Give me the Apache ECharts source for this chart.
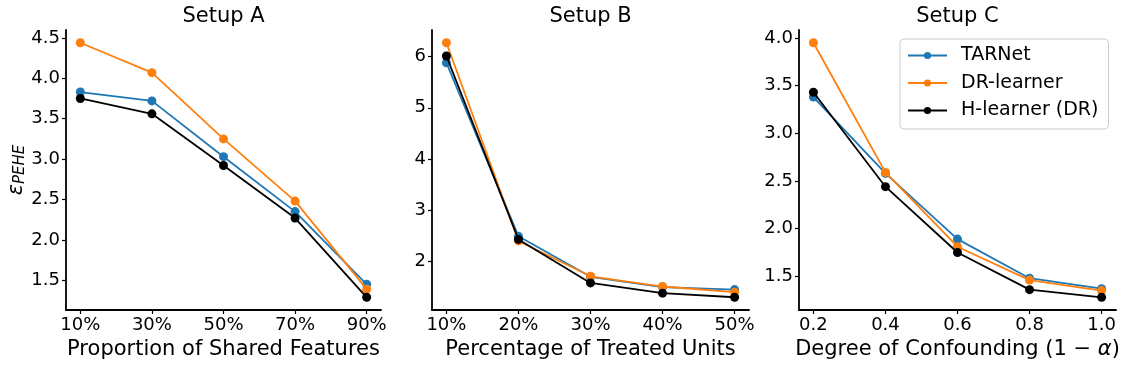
<!DOCTYPE html>
<html>
<head>
<meta charset="utf-8">
<script src="https://cdn.jsdelivr.net/npm/echarts@6/dist/echarts.min.js"></script>
<style>
  html, body { margin: 0; padding: 0; background: #fff; }
  #chart { width: 1121px; height: 368px; }
</style>
</head>
<body>
<div id="chart"></div>
<script>
// x tick labels for each setup
const setupAX = ['10%', '30%', '50%', '70%', '90%'];
const setupBX = ['10%', '20%', '30%', '40%', '50%'];
const setupCX = ['0.2', '0.4', '0.6', '0.8', '1.0'];

// Setup A
const tarnetA = [3.83, 3.72, 3.03, 2.35, 1.45];
const drA = [4.44, 4.07, 3.25, 2.48, 1.39];
const hA = [3.75, 3.56, 2.92, 2.27, 1.29];
// Setup B
const tarnetB = [5.88, 2.49, 1.70, 1.50, 1.45];
const drB = [6.27, 2.40, 1.71, 1.51, 1.40];
const hB = [6.01, 2.43, 1.58, 1.38, 1.30];
// Setup C
const tarnetC = [3.38, 2.58, 1.89, 1.48, 1.37];
const drC = [3.95, 2.59, 1.81, 1.46, 1.35];
const hC = [3.43, 2.44, 1.75, 1.36, 1.28];

// y tick labels
const yTicksA = [1.5, 2.0, 2.5, 3.0, 3.5, 4.0, 4.5];
const yTicksB = [2, 3, 4, 5, 6];
const yTicksC = [1.5, 2.0, 2.5, 3.0, 3.5, 4.0];

const names = ['TARNet', 'DR-learner', 'H-learner (DR)'];
const colors = ['#1f77b4', '#ff7f0e', '#000000'];
const FONT = 'DejaVu Sans';

const panels = [
  { title: 'Setup A', xlabels: setupAX, xname: 'Proportion of Shared Features', yticks: yTicksA, digits: 1, data: [tarnetA, drA, hA], left: 66, width: 315 },
  { title: 'Setup B', xlabels: setupBX, xname: 'Percentage of Treated Units', yticks: yTicksB, digits: 0, data: [tarnetB, drB, hB], left: 432, width: 317 },
  { title: 'Setup C', xlabels: setupCX, xname: 'Degree of Confounding (1 \u2212 {a|\u03b1})', yticks: yTicksC, digits: 1, data: [tarnetC, drC, hC], left: 799, width: 317 }
];

const chart = echarts.init(document.getElementById('chart'));

let grids = [], xAxes = [], yAxes = [], series = [], titles = [];

panels.forEach((p, gi) => {
  grids.push({ left: p.left, width: p.width, top: 30, height: 280, containLabel: false, outerBoundsMode: 'none' });
  titles.push({
    text: p.title,
    left: p.left + p.width / 2,
    textAlign: 'center',
    top: 6,
    padding: 0,
    textStyle: { fontFamily: FONT, fontSize: 21, fontWeight: 'normal', color: '#000' }
  });
  let all = [].concat(...p.data);
  let lo = Math.min(...all), hi = Math.max(...all);
  let pad = (hi - lo) * 0.05;
  let n = p.xlabels.length - 1;
  xAxes.push({
    type: 'value',
    gridIndex: gi,
    min: -0.05 * n,
    max: n + 0.05 * n,
    name: p.xname,
    nameLocation: 'middle',
    nameGap: 27,
    nameTextStyle: {
      fontFamily: FONT, fontSize: 21, color: '#000',
      rich: { a: { fontFamily: FONT, fontSize: 21, fontStyle: 'italic', color: '#000' } }
    },
    axisLine: { onZero: false, lineStyle: { color: '#000', width: 1.8 } },
    axisTick: { show: true, length: 4, lineStyle: { color: '#000', width: 1.2 }, customValues: p.xlabels.map((_, i) => i) },
    axisLabel: {
      fontFamily: FONT, fontSize: 18, color: '#000', margin: 6,
      customValues: p.xlabels.map((_, i) => i),
      formatter: v => p.xlabels[Math.round(v)]
    },
    splitLine: { show: false }
  });
  yAxes.push({
    type: 'value',
    gridIndex: gi,
    min: lo - pad,
    max: hi + pad,
    name: gi === 0 ? '{e|\u03b5}{s|PEHE}' : '',
    nameLocation: 'middle',
    nameRotate: 90,
    nameGap: 35,
    nameTextStyle: {
      lineHeight: 28,
      rich: {
        e: { fontFamily: FONT, fontSize: 21, fontStyle: 'italic', color: '#000', verticalAlign: 'top', lineHeight: 21 },
        s: { fontFamily: FONT, fontSize: 15, fontStyle: 'italic', color: '#000', verticalAlign: 'bottom', lineHeight: 15 }
      }
    },
    axisLine: { show: true, onZero: false, lineStyle: { color: '#000', width: 1.8 } },
    axisTick: { show: true, length: 4, lineStyle: { color: '#000', width: 1.2 }, customValues: p.yticks },
    axisLabel: {
      fontFamily: FONT, fontSize: 18, color: '#000', margin: 6,
      customValues: p.yticks,
      formatter: v => v.toFixed(p.digits)
    },
    splitLine: { show: false }
  });
  p.data.forEach((vals, si) => {
    series.push({
      type: 'line',
      name: names[si],
      xAxisIndex: gi,
      yAxisIndex: gi,
      data: vals.map((v, i) => [i, v]),
      symbol: 'circle',
      symbolSize: 9,
      showSymbol: true,
      lineStyle: { color: colors[si], width: 1.8 },
      itemStyle: { color: colors[si] },
      z: 2 + si,
      animation: false
    });
  });
});

chart.setOption({
  animation: false,
  title: titles,
  grid: grids,
  xAxis: xAxes,
  yAxis: yAxes,
  legend: {
    data: names,
    orient: 'vertical',
    left: 900,
    top: 39,
    itemWidth: 39,
    itemHeight: 9,
    itemGap: 8.5,
    padding: [7, 10, 9, 7],
    backgroundColor: 'rgba(255,255,255,0.8)',
    borderColor: '#cccccc',
    borderWidth: 1,
    borderRadius: 4,
    textStyle: { fontFamily: FONT, fontSize: 19, color: '#000', padding: [0, 0, 0, 9] }
  },
  series: series
});
</script>
</body>
</html>
